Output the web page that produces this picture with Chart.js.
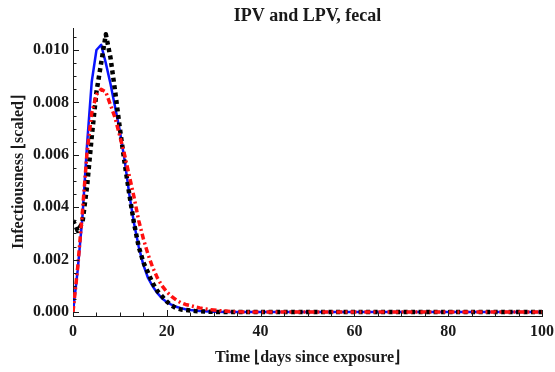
<!DOCTYPE html>
<html>
<head>
<meta charset="utf-8">
<script src="https://cdn.jsdelivr.net/npm/chart.js@4"></script>
<style>
  html, body { margin: 0; padding: 0; background: #ffffff; }
  #wrap { width: 555px; height: 372px; position: relative; }
</style>
</head>
<body>
<div id="wrap"><canvas id="chart"></canvas></div>
<script>
// Time since exposure (days)
const days = [0, 1, 2, 3, 4, 5, 6, 7, 8, 9, 10, 11, 12, 13, 14, 15, 16, 17, 18, 19,
  20, 21, 22, 23, 24, 25, 26, 27, 28, 29, 30, 31, 32, 33, 34, 35, 40, 50, 60, 70, 80, 90, 100];

// Scaled infectiousness, three model curves
const ipvSolid = [0, 0.0016, 0.0036, 0.0064, 0.0088, 0.0100, 0.0102, 0.0095, 0.0087, 0.0078,
  0.0069, 0.0058, 0.0045, 0.0034, 0.0025, 0.0018, 0.0013, 0.00098, 0.00072, 0.00052,
  0.00038, 0.00028, 0.0002, 0.00015, 0.00011, 0.00008, 0.00006, 0.00004, 0.00003, 0.00002,
  0.000015, 0.00001, 0.000007, 0.000005, 0.000003, 0.000002, 0, 0, 0, 0, 0, 0, 0];

const ipvDotted = [0.0035, 0.0031, 0.0034, 0.0048, 0.0067, 0.0084, 0.0095, 0.0106, 0.0097, 0.0084,
  0.0070, 0.0057, 0.0045, 0.0034, 0.0025, 0.0019, 0.0015, 0.0011, 0.0008, 0.0006,
  0.0004, 0.00025, 0.00015, 0.0001, 0.00008, 0.00006, 0.00004, 0.00003, 0.00002, 0.00001,
  0.00001, 0, 0, 0, 0, 0, 0, 0, 0, 0, 0, 0, 0];

const lpvDotDash = [0, 0.0017, 0.0038, 0.0061, 0.0076, 0.0083, 0.0085, 0.0084, 0.0079, 0.0074,
  0.0067, 0.0060, 0.0052, 0.0044, 0.0035, 0.0028, 0.0022, 0.0017, 0.0013, 0.0010,
  0.00077, 0.0006, 0.00046, 0.00036, 0.00029, 0.00025, 0.0002, 0.00016, 0.00013, 0.0001,
  0.00008, 0.00006, 0.00004, 0.00003, 0.00002, 0.00001, 0, 0, 0, 0, 0, 0, 0];

// Labelled tick values
const xTickValues = [0, 20, 40, 60, 80, 100];
const yTickValues = [0, 0.002, 0.004, 0.006, 0.008, 0.010];

const toPoints = (ys) => days.map((d, i) => ({ x: d, y: ys[i] }));

const serif = "'Liberation Serif', 'Times New Roman', serif";
const ink = '#1a1a1a';

// Inward-facing major and minor tick marks, drawn along both axis lines
const inwardTicks = {
  id: 'inwardTicks',
  afterDatasetsDraw(chart) {
    const { ctx, chartArea, scales } = chart;
    const xs = scales.x, ys = scales.y;
    ctx.save();
    ctx.strokeStyle = ink;
    ctx.lineWidth = 1;
    ctx.beginPath();
    for (let k = 0; k <= 21; k++) {
      const v = k * 0.0005;
      const py = Math.round(ys.getPixelForValue(v)) + 0.5;
      const len = (k % 4 === 0) ? 6 : 3.5;
      ctx.moveTo(chartArea.left, py);
      ctx.lineTo(chartArea.left + len, py);
    }
    for (let k = 1; k <= 20; k++) {
      const v = k * 5;
      const px = Math.round(xs.getPixelForValue(v)) + 0.5;
      const len = (k % 4 === 0) ? 6 : 3.5;
      ctx.moveTo(px, chartArea.bottom);
      ctx.lineTo(px, chartArea.bottom - len);
    }
    ctx.stroke();
    ctx.restore();
  }
};

new Chart(document.getElementById('chart'), {
  type: 'line',
  data: {
    datasets: [
      {
        label: 'LPV',
        data: toPoints(lpvDotDash),
        borderColor: '#ff1010',
        borderWidth: 3.5,
        borderDash: [6, 3, 2, 3],
        order: 0
      },
      {
        label: 'IPV (dotted)',
        data: toPoints(ipvDotted),
        borderColor: '#000000',
        borderWidth: 4.5,
        borderDash: [4, 3.5],
        order: 1
      },
      {
        label: 'IPV',
        data: toPoints(ipvSolid),
        borderColor: '#0a14ff',
        borderWidth: 2.5,
        order: 2
      }
    ]
  },
  options: {
    responsive: true,
    maintainAspectRatio: false,
    animation: false,
    devicePixelRatio: 1,
    layout: { padding: { top: 0, right: 13, left: 0, bottom: 0 } },
    elements: {
      point: { radius: 0, hoverRadius: 0 },
      line: { tension: 0, fill: false, borderCapStyle: 'butt', borderJoinStyle: 'round' }
    },
    plugins: {
      legend: { display: false },
      tooltip: { enabled: false },
      title: {
        display: true,
        fullSize: false,
        text: 'IPV and LPV, fecal',
        color: ink,
        font: { family: serif, size: 18, weight: 'bold' },
        padding: { top: 6, bottom: 0.4 }
      }
    },
    scales: {
      x: {
        type: 'linear',
        min: 0,
        max: 100,
        afterBuildTicks(scale) { scale.ticks = xTickValues.map(v => ({ value: v })); },
        afterFit(scale) {
          scale.height = 56;
          scale.paddingLeft = 0;
          scale.paddingRight = 0;
        },
        grid: { display: false, drawTicks: false },
        border: { display: true, color: ink, width: 1 },
        ticks: {
          color: ink,
          padding: 6,
          maxRotation: 0,
          font: { family: serif, size: 16, weight: 'bold' },
          callback: (v) => String(v)
        },
        title: {
          display: true,
          text: 'Time \u230Adays since exposure\u230B',
          color: ink,
          font: { family: serif, size: 16, weight: 'bold' },
          padding: { top: 0, bottom: 5 }
        }
      },
      y: {
        type: 'linear',
        min: -0.00015,
        max: 0.01084,
        afterBuildTicks(scale) { scale.ticks = yTickValues.map(v => ({ value: v })); },
        afterFit(scale) { scale.width = 73; },
        grid: { display: false, drawTicks: false },
        border: { display: true, color: ink, width: 1 },
        ticks: {
          color: ink,
          padding: 4,
          font: { family: serif, size: 16, weight: 'bold' },
          callback: (v) => v.toFixed(3)
        },
        title: {
          display: true,
          text: 'Infectiousness \u230Ascaled\u230B',
          color: ink,
          font: { family: serif, size: 16, weight: 'bold' },
          padding: { top: 9, bottom: 0 }
        }
      }
    }
  },
  plugins: [inwardTicks]
});
</script>
</body>
</html>
